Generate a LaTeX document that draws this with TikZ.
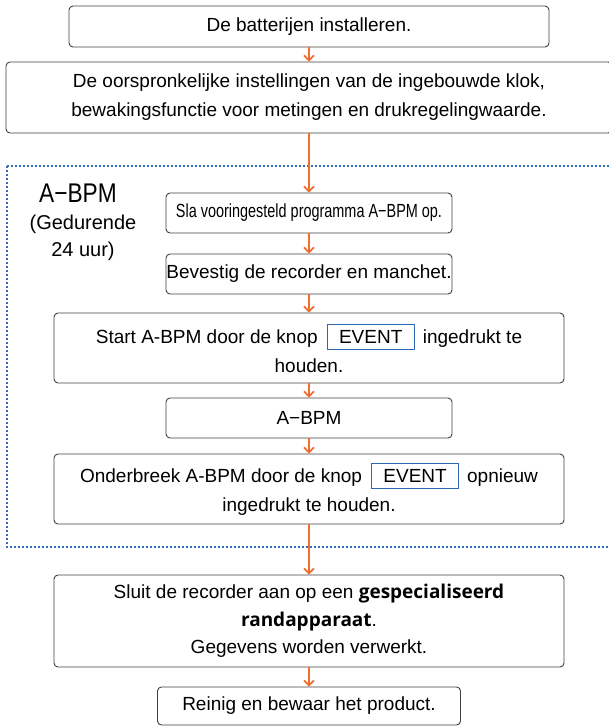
\documentclass[tikz,border=0pt]{standalone}
\usepackage{fontspec}
\setmainfont{Liberation Sans}
\newfontfamily\humfont{Open Sans}
\usepackage{graphicx}
\usetikzlibrary{arrows.meta}

\definecolor{arroworange}{RGB}{240,110,48}
\definecolor{zoneblue}{RGB}{50,110,190}
\definecolor{boxgray}{RGB}{64,64,64}
\definecolor{eventblue}{RGB}{46,104,178}

\newcommand{\eventkey}{{\setlength{\fboxsep}{5.5pt}\setlength{\fboxrule}{0.9pt}\fcolorbox{eventblue}{white}{\hspace{6pt}EVENT\hspace{6pt}}}}

\begin{document}
\begin{tikzpicture}[x=1pt,y=-1pt,
  stepbox/.style={draw=boxgray,line width=0.9pt,rounded corners=4pt,fill=white,align=center,inner sep=0pt,font=\fontsize{19}{29}\selectfont},
  flow/.style={draw=arroworange,line width=1.8pt,-{Straight Barb[length=5pt,width=10pt]}}]
\path[use as bounding box] (0,0) rectangle (609,726);
\clip (0,0) rectangle (609,726);

%\draw [dashed] (0,0) rectangle (609,726);
\draw[zoneblue,line width=2pt,dash pattern=on 2pt off 2pt] (7,166) rectangle (611,547);

\node[stepbox,minimum width=480pt,minimum height=41pt] (install) at (309,26.5) {De batterijen installeren.};
\node[stepbox,minimum width=606pt,minimum height=71pt] (settings) at (309,97.5) {De oorspronkelijke instellingen van de ingebouwde klok,\\bewakingsfunctie voor metingen en drukregelingwaarde.};

\node[font=\fontsize{27}{30}\selectfont] (zonetitle) at (78,193) {\scalebox{0.84}[1]{A−BPM}};
\node[align=center,font=\fontsize{20}{27}\selectfont] (zonetime) at (83,238) {(Gedurende\\24 uur)};

\node[stepbox,minimum width=286pt,minimum height=40pt] (store) at (309,213) {\scalebox{0.76}[1]{Sla vooringesteld programma A−BPM op.}};
\node[stepbox,minimum width=286pt,minimum height=40pt] (attach) at (309,274) {Bevestig de recorder en manchet.};
\node[stepbox,minimum width=510pt,minimum height=70pt] (start) at (309,348) {Start A-BPM door de knop\hspace{9pt}\eventkey\hspace{8pt}ingedrukt te\\houden.};
\node[stepbox,minimum width=286pt,minimum height=40pt] (abpm) at (309,418) {A−BPM};
\node[stepbox,minimum width=510pt,minimum height=70pt] (stop) at (309,489) {Onderbreek A-BPM door de knop\hspace{9pt}\eventkey\hspace{8pt}opnieuw\\ingedrukt te houden.};

\node[stepbox,minimum width=510pt,minimum height=92pt,font=\fontsize{19}{27.5}\selectfont] (connect) at (309,621) {Sluit de recorder aan op een {\humfont\bfseries gespecialiseerd}\\{\humfont\bfseries randapparaat}.\\Gegevens worden verwerkt.};
\node[stepbox,minimum width=303pt,minimum height=38pt] (clean) at (309,706) {Reinig en bewaar het product.};

\draw[flow] (install) -- (settings);
\draw[flow] (settings) -- (store);
\draw[flow] (store) -- (attach);
\draw[flow] (attach) -- (start);
\draw[flow] (start) -- (abpm);
\draw[flow] (abpm) -- (stop);
\draw[flow] (stop) -- (connect);
\draw[flow] (connect) -- (clean);

\end{tikzpicture}
\end{document}
